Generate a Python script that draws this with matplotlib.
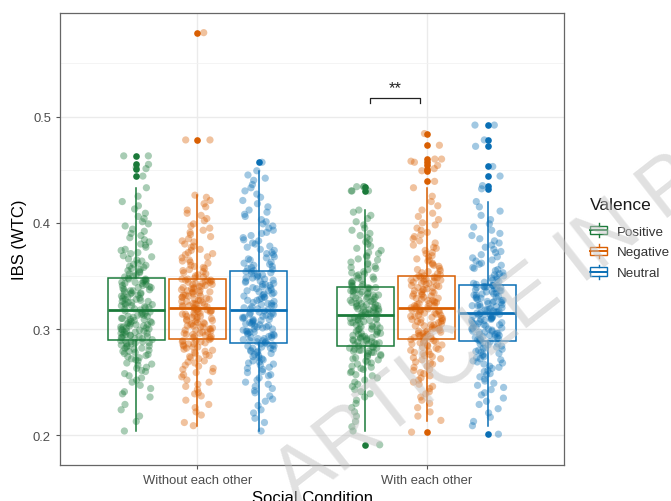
import matplotlib
matplotlib.use("Agg")
import matplotlib.pyplot as plt
import numpy as np
from matplotlib.legend_handler import HandlerBase
from matplotlib.patches import Rectangle, Patch
from matplotlib.lines import Line2D

plt.rcParams['font.family'] = ['Liberation Sans', 'DejaVu Sans']

# ---------------- data ----------------
conditions = ["Without each other", "With each other"]
valences = ["Positive", "Negative", "Neutral"]
colors = {"Positive": "#1b7a3a", "Negative": "#d95f02", "Neutral": "#0a6fb5"}

# box statistics (IBS values)
box_q1 = {("Without each other", "Positive"): 0.290, ("Without each other", "Negative"): 0.291, ("Without each other", "Neutral"): 0.287,
          ("With each other", "Positive"): 0.284, ("With each other", "Negative"): 0.291, ("With each other", "Neutral"): 0.289}
box_med = {("Without each other", "Positive"): 0.318, ("Without each other", "Negative"): 0.320, ("Without each other", "Neutral"): 0.318,
           ("With each other", "Positive"): 0.3135, ("With each other", "Negative"): 0.320, ("With each other", "Neutral"): 0.315}
box_q3 = {("Without each other", "Positive"): 0.348, ("Without each other", "Negative"): 0.347, ("Without each other", "Neutral"): 0.355,
          ("With each other", "Positive"): 0.340, ("With each other", "Negative"): 0.3495, ("With each other", "Neutral"): 0.341}
box_lo = {("Without each other", "Positive"): 0.204, ("Without each other", "Negative"): 0.209, ("Without each other", "Neutral"): 0.204,
          ("With each other", "Positive"): 0.204, ("With each other", "Negative"): 0.2135, ("With each other", "Neutral"): 0.209}
box_hi = {("Without each other", "Positive"): 0.433, ("Without each other", "Negative"): 0.426, ("Without each other", "Neutral"): 0.449,
          ("With each other", "Positive"): 0.4125, ("With each other", "Negative"): 0.433, ("With each other", "Neutral"): 0.420}
outliers = {("Without each other", "Positive"): [0.444, 0.451, 0.455, 0.463],
            ("Without each other", "Negative"): [0.478, 0.579],
            ("Without each other", "Neutral"): [0.457],
            ("With each other", "Positive"): [0.191, 0.430, 0.434],
            ("With each other", "Negative"): [0.203, 0.439, 0.449, 0.451, 0.454, 0.457, 0.460, 0.473, 0.484],
            ("With each other", "Neutral"): [0.201, 0.432, 0.435, 0.444, 0.453, 0.472, 0.478, 0.492]}

# individual observations (in thousandths of IBS)
obs_wo_pos = [204, 213, 218, 224, 229, 236, 239, 241, 244, 247, 250, 252, 254, 256, 258, 260, 261, 263, 264, 266,
              267, 268, 270, 271, 272, 273, 274, 275, 276, 277, 278, 279, 279, 280, 281, 282, 282, 283, 284, 284,
              285, 286, 286, 287, 287, 288, 288, 289, 289, 290,
              291, 291, 292, 292, 293, 293, 294, 294, 295, 295, 296, 296, 297, 297, 298, 298, 299, 299, 300, 300,
              301, 301, 302, 302, 303, 303, 304, 304, 305, 305, 306, 306, 307, 307, 308, 309, 309, 310, 310, 311,
              312, 312, 313, 313, 314, 315, 315, 316, 317, 318,
              319, 319, 320, 320, 321, 322, 322, 323, 323, 324, 325, 325, 326, 326, 327, 328, 328, 329, 329, 330,
              331, 331, 332, 333, 333, 334, 334, 335, 336, 336, 337, 337, 338, 339, 339, 340, 341, 341, 342, 343,
              343, 344, 344, 345, 345, 346, 346, 347, 347, 348,
              349, 350, 351, 352, 353, 354, 355, 356, 357, 358, 359, 360, 361, 362, 364, 365, 366, 368, 369, 371,
              372, 374, 375, 377, 379, 380, 382, 384, 386, 388, 390, 392, 394, 397, 399, 401, 404, 406, 409, 413,
              416, 420, 425, 433, 444, 451, 452, 455, 463, 463]
obs_wo_neg = [209, 212, 219, 222, 226, 229, 233, 237, 239, 240, 243, 246, 248, 250, 252, 255, 257, 259, 260, 262,
              263, 265, 266, 268, 269, 270, 272, 273, 274, 275, 276, 277, 278, 279, 280, 281, 282, 283, 283, 284,
              285, 286, 286, 287, 288, 288, 289, 289, 290, 291,
              292, 292, 293, 293, 294, 295, 295, 296, 296, 297, 297, 298, 299, 299, 300, 300, 301, 302, 302, 303,
              303, 304, 305, 305, 306, 306, 307, 308, 308, 309, 309, 310, 311, 311, 312, 312, 313, 314, 314, 315,
              315, 316, 316, 317, 317, 318, 318, 319, 319, 320,
              321, 321, 322, 322, 323, 323, 324, 324, 325, 326, 326, 327, 327, 328, 328, 329, 330, 330, 331, 331,
              332, 332, 333, 334, 334, 335, 335, 336, 336, 337, 338, 338, 339, 339, 340, 340, 341, 342, 342, 343,
              343, 344, 344, 345, 345, 346, 346, 346, 347, 347,
              348, 349, 350, 351, 352, 353, 354, 355, 356, 357, 358, 359, 360, 362, 363, 364, 365, 367, 368, 370,
              371, 372, 374, 375, 377, 378, 380, 382, 383, 385, 387, 389, 391, 393, 395, 397, 399, 402, 404, 407,
              409, 412, 415, 418, 421, 424, 426, 478, 478, 579]
obs_wo_neu = [204, 212, 216, 221, 224, 228, 232, 234, 237, 240, 242, 244, 246, 248, 250, 252, 254, 256, 257, 259,
              260, 262, 263, 264, 266, 267, 268, 269, 270, 271, 272, 273, 274, 275, 276, 277, 278, 279, 279, 280,
              281, 282, 282, 283, 284, 284, 285, 286, 286, 287,
              288, 288, 289, 289, 290, 291, 291, 292, 292, 293, 294, 294, 295, 295, 296, 297, 297, 298, 298, 299,
              300, 300, 301, 302, 302, 303, 303, 304, 305, 305, 306, 306, 307, 308, 308, 309, 309, 310, 311, 311,
              312, 312, 313, 314, 314, 315, 315, 316, 317, 318,
              319, 319, 320, 321, 322, 322, 323, 324, 324, 325, 326, 327, 327, 328, 329, 330, 330, 331, 332, 333,
              333, 334, 335, 336, 336, 337, 338, 339, 339, 340, 341, 342, 342, 343, 344, 345, 345, 346, 347, 348,
              348, 349, 350, 351, 351, 352, 353, 354, 354, 355,
              356, 357, 358, 359, 360, 361, 362, 363, 365, 366, 367, 368, 370, 371, 372, 374, 375, 377, 378, 380,
              381, 383, 384, 386, 388, 390, 391, 393, 395, 397, 399, 401, 403, 406, 408, 410, 412, 415, 418, 421,
              424, 427, 430, 433, 436, 440, 442, 445, 449, 457]
obs_w_pos = [191, 204, 208, 213, 218, 222, 226, 230, 233, 236, 239, 241, 243, 246, 248, 250, 252, 254, 256, 257,
             259, 260, 262, 263, 264, 265, 267, 268, 269, 270, 271, 272, 273, 274, 275, 275, 276, 277, 278, 278,
             279, 279, 280, 280, 281, 282, 282, 283, 283, 284,
             285, 285, 286, 286, 287, 287, 288, 288, 289, 289, 290, 290, 291, 291, 292, 292, 293, 293, 294, 295,
             295, 296, 296, 297, 298, 298, 299, 300, 300, 301, 302, 302, 303, 304, 304, 305, 306, 306, 307, 308,
             308, 309, 309, 310, 310, 311, 311, 312, 312, 313,
             314, 314, 315, 315, 316, 316, 317, 317, 318, 318, 319, 319, 320, 320, 321, 321, 322, 322, 323, 323,
             324, 324, 325, 326, 326, 327, 327, 328, 329, 329, 330, 330, 331, 332, 332, 333, 333, 334, 335, 335,
             336, 336, 337, 337, 338, 338, 339, 339, 340, 340,
             341, 342, 343, 344, 345, 346, 347, 348, 349, 350, 351, 352, 353, 354, 356, 357, 358, 359, 361, 362,
             363, 365, 366, 368, 369, 371, 372, 374, 376, 378, 380, 382, 384, 386, 388, 390, 393, 395, 398, 401,
             404, 407, 410, 412, 430, 430, 430, 434, 434, 434]
obs_w_neg = [203, 214, 218, 222, 226, 230, 233, 236, 239, 241, 244, 246, 248, 250, 252, 254, 256, 258, 259, 261,
             262, 264, 265, 267, 268, 269, 271, 272, 273, 274, 275, 276, 277, 278, 279, 280, 281, 282, 283, 284,
             285, 285, 286, 287, 287, 288, 289, 289, 290, 291,
             292, 292, 293, 293, 294, 294, 295, 296, 296, 297, 297, 298, 298, 299, 300, 300, 301, 301, 302, 303,
             303, 304, 304, 305, 306, 306, 307, 307, 308, 309, 309, 310, 310, 311, 312, 312, 313, 313, 314, 315,
             315, 316, 316, 317, 317, 318, 318, 319, 319, 320,
             321, 321, 322, 322, 323, 324, 324, 325, 325, 326, 327, 327, 328, 329, 329, 330, 331, 331, 332, 333,
             333, 334, 335, 335, 336, 337, 337, 338, 339, 339, 340, 341, 341, 342, 343, 343, 344, 345, 345, 346,
             346, 347, 347, 348, 348, 348, 349, 349, 350, 350,
             351, 352, 353, 354, 355, 356, 357, 359, 360, 361, 362, 364, 365, 366, 368, 369, 371, 372, 374, 376,
             377, 379, 381, 383, 385, 387, 389, 391, 393, 395, 398, 400, 403, 406, 409, 412, 416, 420, 425, 433,
             439, 449, 451, 454, 457, 458, 460, 460, 473, 484]
obs_w_neu = [201, 209, 213, 217, 221, 225, 229, 232, 235, 238, 240, 243, 245, 247, 249, 251, 253, 255, 257, 258,
             260, 261, 263, 264, 265, 267, 268, 269, 270, 271, 272, 273, 274, 275, 276, 277, 278, 279, 280, 281,
             282, 282, 283, 284, 285, 286, 286, 287, 288, 289,
             290, 290, 291, 291, 292, 292, 293, 293, 294, 294, 295, 295, 296, 296, 297, 297, 298, 298, 299, 300,
             300, 301, 301, 302, 302, 303, 304, 304, 305, 305, 306, 306, 307, 308, 308, 309, 309, 310, 310, 311,
             311, 312, 312, 313, 313, 314, 314, 314, 315, 315,
             316, 316, 317, 317, 318, 318, 319, 319, 320, 321, 321, 322, 322, 323, 323, 324, 325, 325, 326, 326,
             327, 327, 328, 329, 329, 330, 330, 331, 332, 332, 333, 333, 334, 335, 335, 336, 336, 337, 338, 338,
             339, 339, 339, 340, 340, 340, 341, 341, 341, 341,
             342, 343, 344, 345, 346, 347, 348, 349, 350, 351, 352, 353, 355, 356, 357, 358, 360, 361, 362, 364,
             365, 367, 368, 370, 372, 373, 375, 377, 379, 381, 383, 385, 388, 390, 393, 396, 399, 403, 407, 411,
             415, 420, 432, 435, 444, 453, 472, 478, 492, 492]

observations = {("Without each other", "Positive"): obs_wo_pos,
                ("Without each other", "Negative"): obs_wo_neg,
                ("Without each other", "Neutral"): obs_wo_neu,
                ("With each other", "Positive"): obs_w_pos,
                ("With each other", "Negative"): obs_w_neg,
                ("With each other", "Neutral"): obs_w_neu}

y_ticks = [0.2, 0.3, 0.4, 0.5]
sig_label = "**"
sig_pair = ("With each other", "Positive", "Negative")
sig_y = 0.5175
watermark = "ARTICLE IN PRESS"

# ---------------- figure ----------------
W, H = 671, 502
fig = plt.figure(figsize=(W / 100, H / 100), dpi=100)
ax = fig.add_axes([60 / W, 1 - 466 / H, (564 - 60) / W, (466 - 14) / H])

dodge = 0.267
box_w = 0.25
jit = 0.07
rng = np.random.default_rng(11)  # horizontal jitter only (as geom_jitter does)

for gi, cond in enumerate(conditions):
    for vi, val in enumerate(valences):
        key = (cond, val)
        pos = gi + 1 + (vi - 1) * dodge
        col = colors[val]
        stats = [dict(med=box_med[key], q1=box_q1[key], q3=box_q3[key],
                      whislo=box_lo[key], whishi=box_hi[key], fliers=outliers[key])]
        ax.bxp(stats, positions=[pos], widths=box_w, showcaps=False, patch_artist=True,
               boxprops=dict(facecolor='none', edgecolor=col, linewidth=1.1),
               whiskerprops=dict(color=col, linewidth=1.1),
               medianprops=dict(color=col, linewidth=2.0),
               flierprops=dict(marker='o', markerfacecolor=col, markeredgecolor='none', markersize=4.8),
               zorder=3)
        vals = np.array(observations[key]) / 1000.0
        offs = rng.uniform(-jit, jit, len(vals))
        ax.scatter(pos + offs, vals, s=27, color=col, alpha=0.38, edgecolors='none', zorder=4)

# significance bracket
g = conditions.index(sig_pair[0]) + 1
x1 = g + (valences.index(sig_pair[1]) - 1) * dodge + 0.02
x2 = g + (valences.index(sig_pair[2]) - 1) * dodge - 0.03
ax.plot([x1, x1, x2, x2], [sig_y - 0.0045, sig_y, sig_y, sig_y - 0.0045], color='#222222', lw=0.9, zorder=5)
ax.text((x1 + x2) / 2, sig_y + 0.003, sig_label, ha='center', va='bottom', fontsize=12, color='#222222')

ax.set_xlim(0.4, 2.6)
ax.set_ylim(0.172, 0.5975)
ax.set_xticks([1, 2])
ax.set_xticklabels(conditions)
ax.set_yticks(y_ticks)
ax.set_yticklabels([f"{t:.1f}" for t in y_ticks])
ax.set_yticks([0.25, 0.35, 0.45, 0.55], minor=True)
ax.set_xticks([], minor=True)
ax.grid(True, which='major', color='#ebebeb', lw=1.0, zorder=0)
ax.grid(True, which='minor', axis='y', color='#f2f2f2', lw=0.6, zorder=0)
ax.set_axisbelow(True)
ax.tick_params(axis='both', which='major', colors='#555555', labelcolor='#4d4d4d', labelsize=9.4, length=3, width=0.8)
ax.tick_params(axis='y', which='minor', length=0)
for s in ax.spines.values():
    s.set_color('#666666')
    s.set_linewidth(0.9)

ax.set_xlabel("Social Condition", fontsize=12, labelpad=3)
ax.set_ylabel("IBS (WTC)", fontsize=12, labelpad=4)


class BoxHandler(HandlerBase):
    def create_artists(self, legend, orig_handle, xdescent, ydescent, width, height, fontsize, trans):
        c = orig_handle.get_edgecolor()
        x0, y0 = -xdescent, -ydescent
        bw, bh = width * 0.95, height * 0.72
        bx = x0 + (width - bw) / 2
        by = y0 + (height - bh) / 2
        rect = Rectangle((bx, by), bw, bh, facecolor='white', edgecolor=c, lw=1.0, transform=trans)
        xm = x0 + width / 2
        med = Line2D([bx, bx + bw], [y0 + height / 2] * 2, color=c, lw=1.4, transform=trans)
        w1 = Line2D([xm, xm], [by + bh, y0 + height * 1.1], color=c, lw=1.0, transform=trans)
        w2 = Line2D([xm, xm], [by, y0 - height * 0.1], color=c, lw=1.0, transform=trans)
        return [rect, med, w1, w2]


fig.text(590 / W, 1 - 206 / H, "Valence", ha='left', va='center', fontsize=12.5, color='#1a1a1a')
handles = [Patch(edgecolor=colors[v], facecolor='white') for v in valences]
leg = fig.legend(handles, valences, loc='upper left',
                 bbox_to_anchor=(590 / W, 1 - 225 / H), frameon=False,
                 handler_map={Patch: BoxHandler()}, fontsize=9.6,
                 handlelength=1.3, handleheight=1.0, handletextpad=0.75, labelspacing=0.55,
                 borderaxespad=0, borderpad=0)
for t in leg.get_texts():
    t.set_color('#333333')

# watermark
fig.text(297 / W, 1 - 507 / H, watermark, rotation=38, rotation_mode='anchor',
         ha='left', va='baseline', fontsize=58, color='#c4c4c4', alpha=0.5, zorder=10,
         family=['Liberation Sans'])

fig.savefig("out.png", dpi=100)
